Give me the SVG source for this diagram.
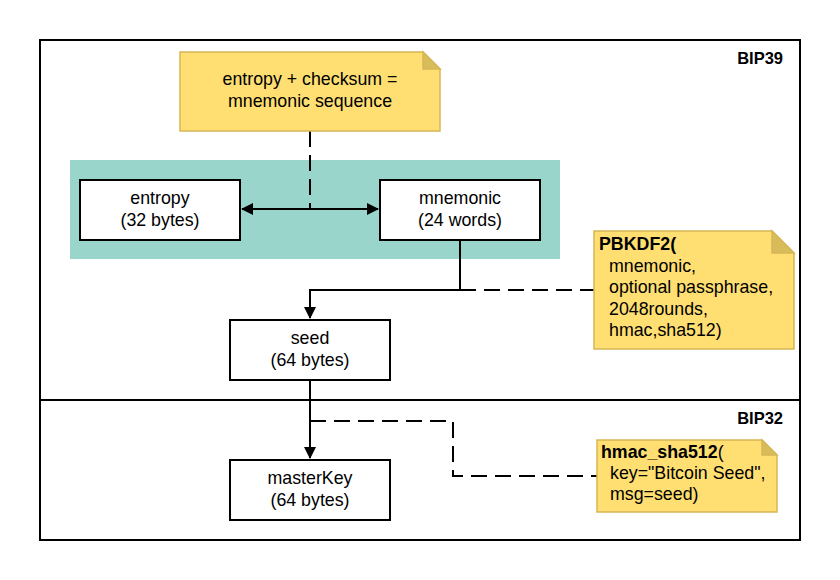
<svg xmlns="http://www.w3.org/2000/svg" width="840" height="580" viewBox="0 0 840 580">
<defs>
<style>
text{font-family:"Liberation Sans",Arial,sans-serif;font-size:17.8px;fill:#000}
.c{text-anchor:middle}
.b{font-weight:bold}
.lbl{font-size:16.5px;font-weight:bold}
.box{fill:#fff;stroke:#000;stroke-width:2}
.note{fill:#ffdf71;stroke:#d6b656;stroke-width:1.5}
.fold{fill:#d9bc5a;stroke:#d6b656;stroke-width:1.5}
.ln{fill:none;stroke:#000;stroke-width:2}
.dash{fill:none;stroke:#000;stroke-width:2;stroke-dasharray:16 8}
</style>
<marker id="ah" viewBox="0 0 12 12" refX="11" refY="6" markerWidth="12" markerHeight="12" markerUnits="userSpaceOnUse" orient="auto-start-reverse">
<path d="M0,0 L12,6 L0,12 Z" fill="#000"/>
</marker>
</defs>
<rect width="840" height="580" fill="#fff"/>
<g id="frame">
<rect x="40" y="40" width="760" height="500" fill="none" stroke="#000" stroke-width="2"/>
<line x1="40" y1="400" x2="800" y2="400" stroke="#000" stroke-width="2"/>
<text x="783" y="64" text-anchor="end" class="lbl">BIP39</text>
<text x="783" y="424" text-anchor="end" class="lbl">BIP32</text>
</g>
<g id="group-bg">
<rect x="70" y="160" width="490" height="99" fill="#9ad5cb"/>
</g>
<g id="connectors">
<path class="dash" d="M310,131 V209"/>
<path class="ln" d="M242,209 H378" marker-start="url(#ah)" marker-end="url(#ah)"/>
<path class="ln" d="M460,240 V290 H310 V318" marker-end="url(#ah)"/>
<path class="dash" d="M460,290 H594"/>
<path class="ln" d="M310,380 V458" marker-end="url(#ah)"/>
<path class="dash" d="M310,421 H453 V476 H597"/>
</g>
<g id="note-top">
<path class="note" d="M180,52 H423 L440,69 V131 H180 Z"/>
<path class="fold" d="M423,52 V69 H440 Z"/>
<text x="310" y="85" class="c">entropy + checksum =</text>
<text x="310" y="107" class="c">mnemonic sequence</text>
</g>
<g id="entropy">
<rect class="box" x="80" y="180" width="160" height="60"/>
<text x="160" y="204" class="c">entropy</text>
<text x="160" y="226" class="c">(32 bytes)</text>
</g>
<g id="mnemonic">
<rect class="box" x="380" y="180" width="160" height="60"/>
<text x="460" y="204" class="c">mnemonic</text>
<text x="460" y="226" class="c">(24 words)</text>
</g>
<g id="seed">
<rect class="box" x="230" y="320" width="160" height="60"/>
<text x="310" y="344" class="c">seed</text>
<text x="310" y="366" class="c">(64 bytes)</text>
</g>
<g id="masterKey">
<rect class="box" x="230" y="460" width="160" height="60"/>
<text x="310" y="484" class="c">masterKey</text>
<text x="310" y="506" class="c">(64 bytes)</text>
</g>
<g id="note-pbkdf2">
<path class="note" d="M594,231 H772 L794,253 V349 H594 Z"/>
<path class="fold" d="M772,231 V253 H794 Z"/>
<text x="599" y="250" class="b">PBKDF2(</text>
<text x="609" y="272">mnemonic,</text>
<text x="609" y="293">optional passphrase,</text>
<text x="609" y="315">2048rounds,</text>
<text x="609" y="336">hmac,sha512)</text>
</g>
<g id="note-hmac">
<path class="note" d="M597,440 H762 L777,455 V512 H597 Z"/>
<path class="fold" d="M762,440 V455 H777 Z"/>
<text x="601" y="458"><tspan class="b">hmac_sha512</tspan>(</text>
<text x="610" y="479">key="Bitcoin Seed",</text>
<text x="610" y="500">msg=seed)</text>
</g>
</svg>
